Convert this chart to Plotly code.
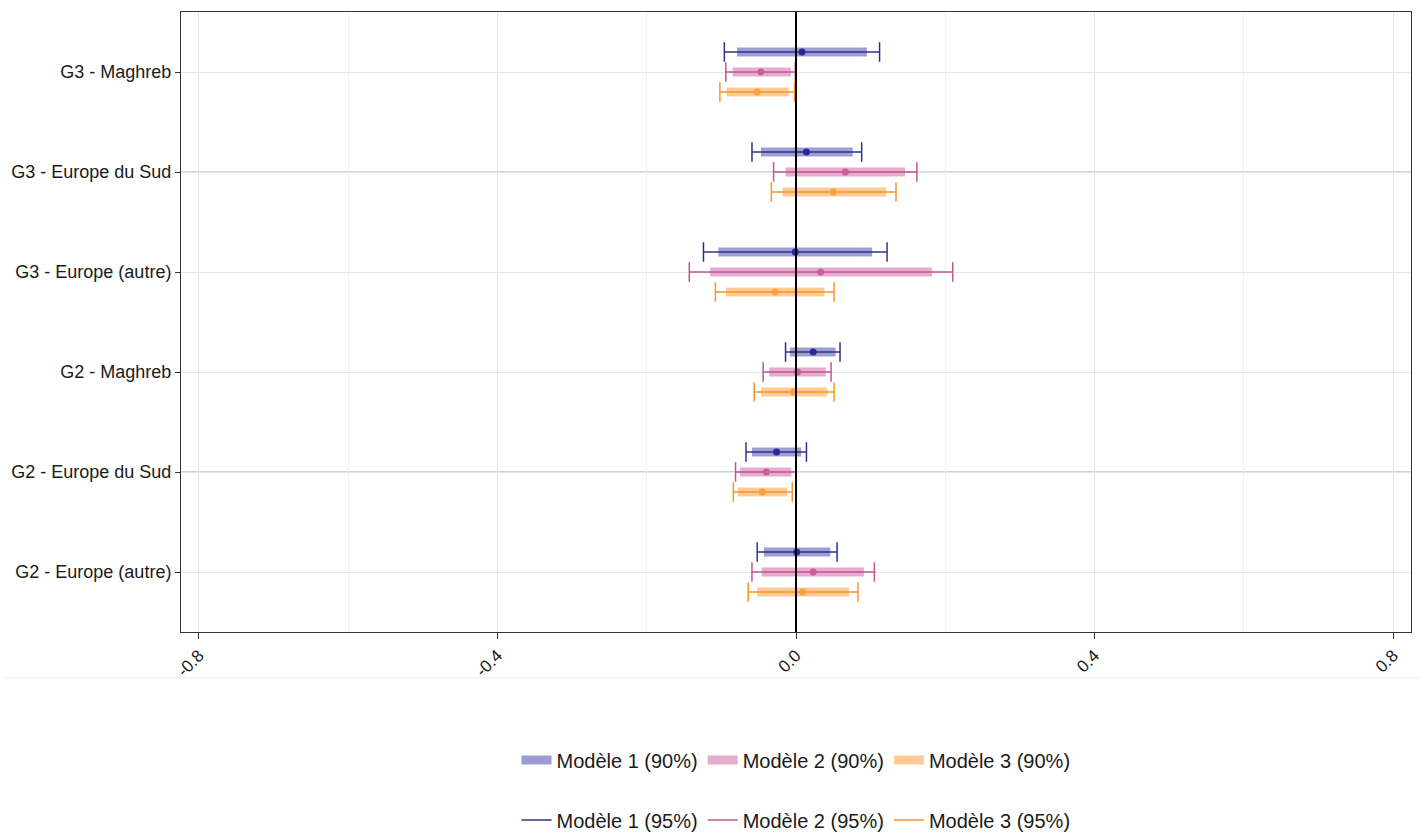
import plotly.graph_objects as go

categories = ["G2 - Europe (autre)", "G2 - Europe du Sud", "G2 - Maghreb",
              "G3 - Europe (autre)", "G3 - Europe du Sud", "G3 - Maghreb"]

models = ["Modèle 1", "Modèle 2", "Modèle 3"]

# point estimates, per model, in category order above
est = {
    "Modèle 1": [0.001, -0.026, 0.023, -0.001, 0.014, 0.008],
    "Modèle 2": [0.023, -0.040, 0.002, 0.033, 0.066, -0.047],
    "Modèle 3": [0.009, -0.045, -0.003, -0.028, 0.050, -0.052],
}
lo90 = {
    "Modèle 1": [-0.043, -0.059, -0.008, -0.104, -0.047, -0.079],
    "Modèle 2": [-0.046, -0.075, -0.036, -0.115, -0.014, -0.085],
    "Modèle 3": [-0.052, -0.078, -0.047, -0.094, -0.018, -0.093],
}
hi90 = {
    "Modèle 1": [0.046, 0.007, 0.053, 0.102, 0.076, 0.095],
    "Modèle 2": [0.091, -0.006, 0.040, 0.182, 0.146, -0.007],
    "Modèle 3": [0.071, -0.012, 0.042, 0.038, 0.121, -0.010],
}
lo95 = {
    "Modèle 1": [-0.052, -0.067, -0.014, -0.124, -0.059, -0.096],
    "Modèle 2": [-0.059, -0.081, -0.044, -0.143, -0.030, -0.094],
    "Modèle 3": [-0.064, -0.084, -0.056, -0.108, -0.033, -0.102],
}
hi95 = {
    "Modèle 1": [0.055, 0.014, 0.059, 0.122, 0.088, 0.112],
    "Modèle 2": [0.105, 0.000, 0.047, 0.210, 0.162, -0.001],
    "Modèle 3": [0.083, -0.005, 0.051, 0.051, 0.134, -0.002],
}

x_ticks = [-0.8, -0.4, 0.0, 0.4, 0.8]

line_colors = {"Modèle 1": "rgb(48,48,140)", "Modèle 2": "rgb(196,84,146)", "Modèle 3": "rgb(246,150,40)"}
bar_colors = {"Modèle 1": "rgba(60,60,170,0.5)", "Modèle 2": "rgba(205,90,155,0.5)", "Modèle 3": "rgba(255,150,40,0.5)"}
pt_colors = {"Modèle 1": "rgb(40,40,150)", "Modèle 2": "rgb(200,95,155)", "Modèle 3": "rgb(250,160,60)"}
offsets = {"Modèle 1": 0.2, "Modèle 2": 0.0, "Modèle 3": -0.2}

fig = go.Figure()

pos = list(range(1, len(categories) + 1))


def segs(lo, hi, ys):
    xs, yy = [], []
    for a, b, y in zip(lo, hi, ys):
        xs += [a, b, None]
        yy += [y, y, None]
    return xs, yy


# 90% bars
for m in models:
    ys = [p + offsets[m] for p in pos]
    xs, yy = segs(lo90[m], hi90[m], ys)
    fig.add_trace(go.Scatter(x=xs, y=yy, mode="lines", name=f"{m} (90%)",
                             line=dict(color=bar_colors[m], width=9),
                             legend="legend", hoverinfo="skip"))

# 95% whiskers
for m in models:
    ys = [p + offsets[m] for p in pos]
    xs, yy = segs(lo95[m], hi95[m], ys)
    fig.add_trace(go.Scatter(x=xs, y=yy, mode="lines", name=f"{m} (95%)",
                             line=dict(color=line_colors[m], width=1.5),
                             legend="legend2", hoverinfo="skip"))
    fig.add_trace(go.Scatter(x=lo95[m] + hi95[m], y=ys + ys, mode="markers",
                             marker=dict(symbol="line-ns", size=14,
                                         line=dict(color=line_colors[m], width=1.5)),
                             showlegend=False, hoverinfo="skip"))

# points
for m in models:
    ys = [p + offsets[m] for p in pos]
    fig.add_trace(go.Scatter(x=est[m], y=ys, mode="markers",
                             marker=dict(color=pt_colors[m], size=7),
                             showlegend=False))

# darker reference lines for "Europe du Sud"
for c in ["G2 - Europe du Sud", "G3 - Europe du Sud"]:
    fig.add_hline(y=categories.index(c) + 1, line=dict(color="#a9a9a9", width=1), layer="below")

fig.add_vline(x=0, line=dict(color="black", width=2))

# faint separator under axis
fig.add_shape(type="line", xref="paper", yref="paper", x0=-0.143, x1=1.0077, y0=-0.074, y1=-0.074,
              line=dict(color="#eeeeee", width=1))

font = "Liberation Sans, Arial, sans-serif"

fig.update_layout(
    width=1423, height=832,
    margin=dict(l=181, r=12, t=12, b=200, autoexpand=False),
    paper_bgcolor="white", plot_bgcolor="white",
    font=dict(family=font, color="#1a1a1a"),
    xaxis=dict(range=[-0.824, 0.824], tickvals=x_ticks,
               ticktext=[f"{v:.1f}" for v in x_ticks],
               tickangle=-45, tickfont=dict(size=17, color="#1a1a1a"),
               showgrid=True, gridcolor="#e6e6e6", gridwidth=1,
               minor=dict(dtick=0.2, tick0=0, showgrid=True, gridcolor="#f0f0f0"),
               zeroline=False, showline=True, linecolor="#333333", linewidth=1, mirror=True,
               ticks="outside", ticklen=6, tickcolor="#333333"),
    yaxis=dict(range=[0.4, 6.6], tickvals=pos, ticktext=categories,
               tickfont=dict(size=18, color="#1a1a1a"),
               showgrid=True, gridcolor="#e6e6e6", zeroline=False,
               showline=True, linecolor="#333333", linewidth=1, mirror=True,
               ticks="outside", ticklen=5, tickcolor="#333333"),
    legend=dict(orientation="h", x=0.5, xanchor="center", xref="paper",
                y=1 - 760 / 832, yanchor="middle", yref="container",
                font=dict(size=20, color="#1a1a1a"), itemwidth=30, tracegroupgap=0),
    legend2=dict(orientation="h", x=0.5, xanchor="center", xref="paper",
                 y=1 - 820 / 832, yanchor="middle", yref="container",
                 font=dict(size=20, color="#1a1a1a"), itemwidth=30, tracegroupgap=0),
    showlegend=True,
)

fig.write_html("out.html")
